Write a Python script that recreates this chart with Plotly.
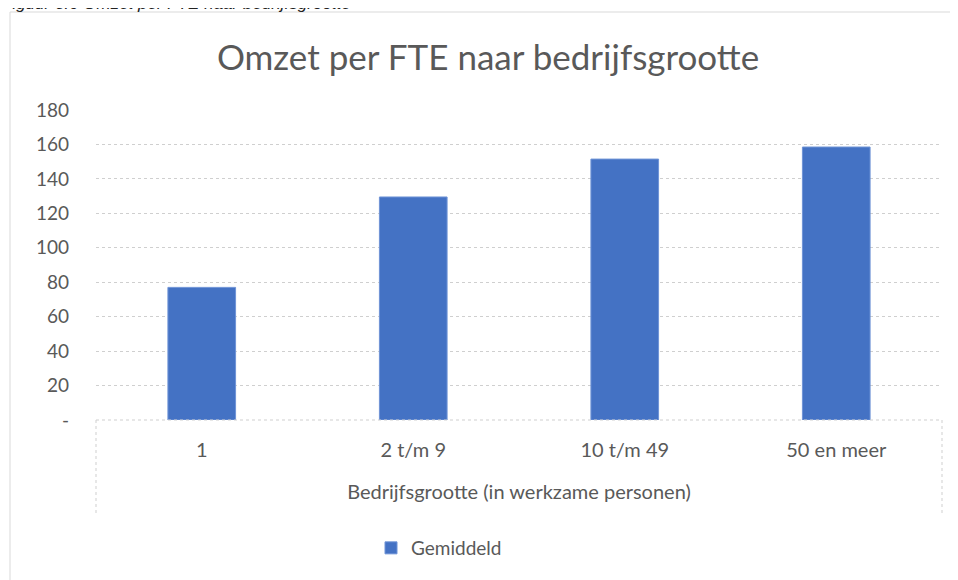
import plotly.graph_objects as go

# === Dati ===
categories = ["1", "2 t/m 9", "10 t/m 49", "50 en meer"]
gemiddeld = [77, 129.5, 151.5, 158.5]
y_ticks = [0, 20, 40, 60, 80, 100, 120, 140, 160, 180]
y_ticktext = ["-", "20", "40", "60", "80", "100", "120", "140", "160", "180"]

FONT = "Lato"
GREY = "#595959"
BLUE = "#4472C4"
LINE = "#cfcfcf"

# la pagina html ha 8px di margine: tutte le coordinate sono spostate di -8
OFF = 8
W, H = 958 - OFF, 580 - OFF
L, T = 96 - OFF, 110 - OFF
R = W - (942 - OFF)
B = H - (420 - OFF)
pw, ph = W - L - R, H - T - B


def px(x):
	# pixel dello schermo -> coordinata paper
	return (x - OFF - L) / pw


def py(y):
	return (H - B - (y - OFF)) / ph


fig = go.Figure()
fig.add_trace(go.Bar(
	x=categories,
	y=gemiddeld,
	name="Gemiddeld",
	marker=dict(color=BLUE, line=dict(color="#6f93d6", width=1)),
))

fig.update_layout(
	width=W,
	height=H,
	margin=dict(l=L, r=R, t=T, b=B),
	paper_bgcolor="white",
	plot_bgcolor="white",
	font=dict(family=FONT, color=GREY, size=19),
	bargap=0.68,
	showlegend=True,
	legend=dict(
		orientation="h",
		x=px(439), xanchor="center",
		y=py(548), yanchor="middle",
		font=dict(size=19, color=GREY),
		itemwidth=30,
	),
	title=dict(
		text="Omzet per FTE naar bedrijfsgrootte",
		xref="paper",
		x=px(488), xanchor="center",
		y=1 - (58 - OFF) / H, yanchor="middle",
		font=dict(size=35, color=GREY, family=FONT),
	),
)

fig.update_yaxes(
	range=[0, 180],
	tickvals=y_ticks,
	ticktext=y_ticktext,
	showgrid=True,
	gridcolor=LINE,
	griddash="dot",
	gridwidth=1,
	zeroline=False,
	showline=False,
	ticks="",
	ticklabelstandoff=26,
	tickfont=dict(size=19, color=GREY),
)

fig.update_xaxes(
	showgrid=False,
	showline=False,
	ticks="",
	ticklabelstandoff=16,
	tickfont=dict(size=20, color=GREY),
	title=dict(text="Bedrijfsgrootte (in werkzame personen)", standoff=24,
		font=dict(size=20, color=GREY)),
)

# === Linea base e linee verticali dell'asse categorie ===
fig.add_shape(type="line", xref="paper", yref="paper",
	x0=0, x1=1, y0=0, y1=0,
	line=dict(color=LINE, width=1, dash="dot"))
for xv in [0, 1]:
	fig.add_shape(type="line", xref="paper", yref="paper",
		x0=xv, x1=xv, y0=0, y1=py(513),
		line=dict(color=LINE, width=1, dash="dot"))

# === Bordo del grafico ===
fig.add_shape(type="rect", xref="paper", yref="paper",
	x0=px(10), x1=px(1000), y0=py(12), y1=py(640),
	line=dict(color="#d9d9d9", width=1), layer="below")

# === Didascalia (tagliata in alto) ===
fig.add_annotation(
	text="<i>Figuur 3.6 Omzet per FTE naar bedrijfsgrootte</i>",
	xref="paper", yref="paper",
	x=px(0), xanchor="left",
	y=py(15), yanchor="bottom",
	showarrow=False,
	font=dict(size=17, color="#222222", family="Liberation Sans"),
)

fig.write_html("out.html")
